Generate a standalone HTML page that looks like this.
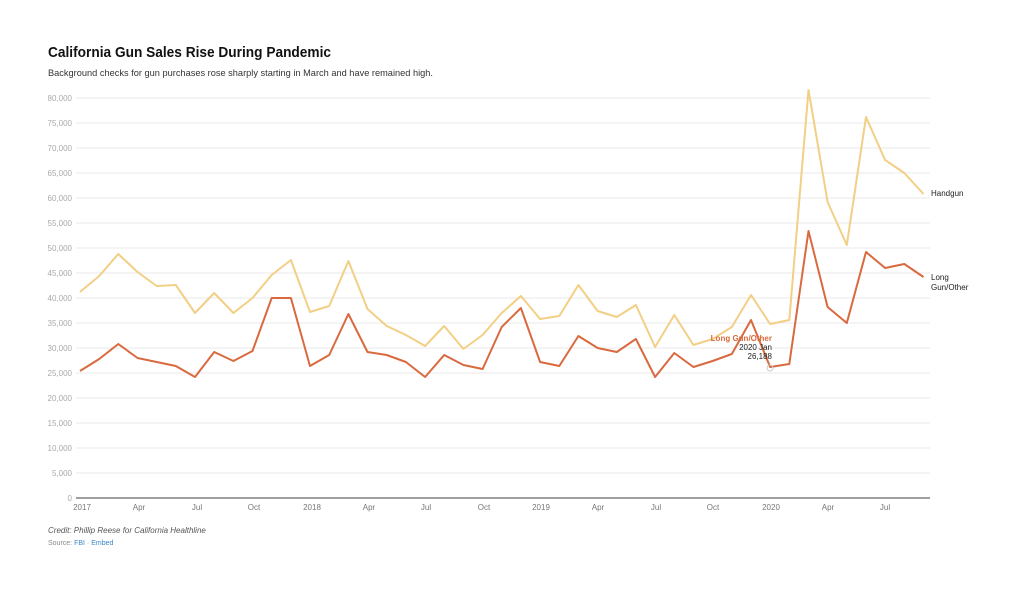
<!DOCTYPE html>
<html><head><meta charset="utf-8"><style>
body{margin:0;background:#fff;width:1024px;height:594px;overflow:hidden;font-family:"Liberation Sans",sans-serif}
</style></head><body>
<svg width="1024" height="594" xmlns="http://www.w3.org/2000/svg" font-family="Liberation Sans, sans-serif">
<text x="48" y="57" font-size="15" font-weight="bold" fill="#111" textLength="283" lengthAdjust="spacingAndGlyphs">California Gun Sales Rise During Pandemic</text>
<text x="48" y="76" font-size="9.5" fill="#333" textLength="385" lengthAdjust="spacingAndGlyphs">Background checks for gun purchases rose sharply starting in March and have remained high.</text>
<g stroke="#e8e8e8" stroke-width="1">
<line x1="76" x2="930" y1="98" y2="98"/><line x1="76" x2="930" y1="123" y2="123"/><line x1="76" x2="930" y1="148" y2="148"/><line x1="76" x2="930" y1="173" y2="173"/><line x1="76" x2="930" y1="198" y2="198"/><line x1="76" x2="930" y1="223" y2="223"/><line x1="76" x2="930" y1="248" y2="248"/><line x1="76" x2="930" y1="273" y2="273"/><line x1="76" x2="930" y1="298" y2="298"/><line x1="76" x2="930" y1="323" y2="323"/><line x1="76" x2="930" y1="348" y2="348"/><line x1="76" x2="930" y1="373" y2="373"/><line x1="76" x2="930" y1="398" y2="398"/><line x1="76" x2="930" y1="423" y2="423"/><line x1="76" x2="930" y1="448" y2="448"/><line x1="76" x2="930" y1="473" y2="473"/>
</g>
<line x1="76" x2="930" y1="498" y2="498" stroke="#666" stroke-width="1.2"/>
<g font-size="8" fill="#aaa" text-anchor="end">
<text x="72" y="101">80,000</text><text x="72" y="126">75,000</text><text x="72" y="151">70,000</text><text x="72" y="176">65,000</text><text x="72" y="201">60,000</text><text x="72" y="226">55,000</text><text x="72" y="251">50,000</text><text x="72" y="276">45,000</text><text x="72" y="301">40,000</text><text x="72" y="326">35,000</text><text x="72" y="351">30,000</text><text x="72" y="376">25,000</text><text x="72" y="401">20,000</text><text x="72" y="426">15,000</text><text x="72" y="451">10,000</text><text x="72" y="476">5,000</text><text x="72" y="501">0</text>
</g>
<g font-size="8" fill="#777" text-anchor="middle">
<text x="82" y="510">2017</text><text x="139" y="510">Apr</text><text x="197" y="510">Jul</text><text x="254" y="510">Oct</text><text x="312" y="510">2018</text><text x="369" y="510">Apr</text><text x="426" y="510">Jul</text><text x="484" y="510">Oct</text><text x="541" y="510">2019</text><text x="598" y="510">Apr</text><text x="656" y="510">Jul</text><text x="713" y="510">Oct</text><text x="771" y="510">2020</text><text x="828" y="510">Apr</text><text x="885" y="510">Jul</text>
</g>
<polyline fill="none" stroke="#f2cf85" stroke-width="2" stroke-linejoin="round" points="80,292 99.2,276 118.3,254 137.5,272 156.7,286 175.8,285 195,313 214.2,293 233.4,313 252.5,298 271.7,275 290.9,260 310,312 329.2,306 348.4,261 367.5,309 386.7,326 405.9,335 425.1,346 444.2,326 463.4,349 482.6,335 501.7,313 520.9,296 540.1,319 559.3,316 578.4,285 597.6,311 616.8,317 635.9,305 655.1,347 674.3,315 693.4,345 712.6,339 731.8,327 751,295 770.1,324 789.3,320 808.5,90 827.6,202 846.8,245 866,117 885.1,160 904.3,173 923.5,194"/>
<polyline fill="none" stroke="#d9693e" stroke-width="2" stroke-linejoin="round" points="80,371 99.2,359 118.3,344 137.5,358 156.7,362 175.8,366 195,377 214.2,352 233.4,361 252.5,351 271.7,298 290.9,298 310,366 329.2,355 348.4,314 367.5,352 386.7,355 405.9,362 425.1,377 444.2,355 463.4,365 482.6,369 501.7,327 520.9,308 540.1,362 559.3,366 578.4,336 597.6,348 616.8,352 635.9,339 655.1,377 674.3,353 693.4,367 712.6,361 731.8,354 751,320 770.1,367 789.3,364 808.5,231 827.6,307 846.8,323 866,252 885.1,268 904.3,264 923.5,277"/>
<circle cx="770" cy="368" r="3" fill="none" stroke="#ccc"/>
<text x="772" y="341" font-size="8" font-weight="bold" fill="#d9693e" text-anchor="end">Long Gun/Other</text>
<text x="772" y="350" font-size="8" fill="#222" text-anchor="end">2020 Jan</text>
<text x="772" y="359" font-size="8" fill="#222" text-anchor="end">26,188</text>
<text x="931" y="196" font-size="8" fill="#222">Handgun</text>
<text x="931" y="280" font-size="8" fill="#222">Long</text>
<text x="931" y="290" font-size="8" fill="#222">Gun/Other</text>
<text x="48" y="533" font-size="8" font-style="italic" fill="#555">Credit: Phillip Reese for California Healthline</text>
<text x="48" y="545" font-size="7" fill="#888">Source: <tspan fill="#3a86c8">FBI</tspan> · <tspan fill="#3a86c8">Embed</tspan></text>
</svg>
</body></html>
